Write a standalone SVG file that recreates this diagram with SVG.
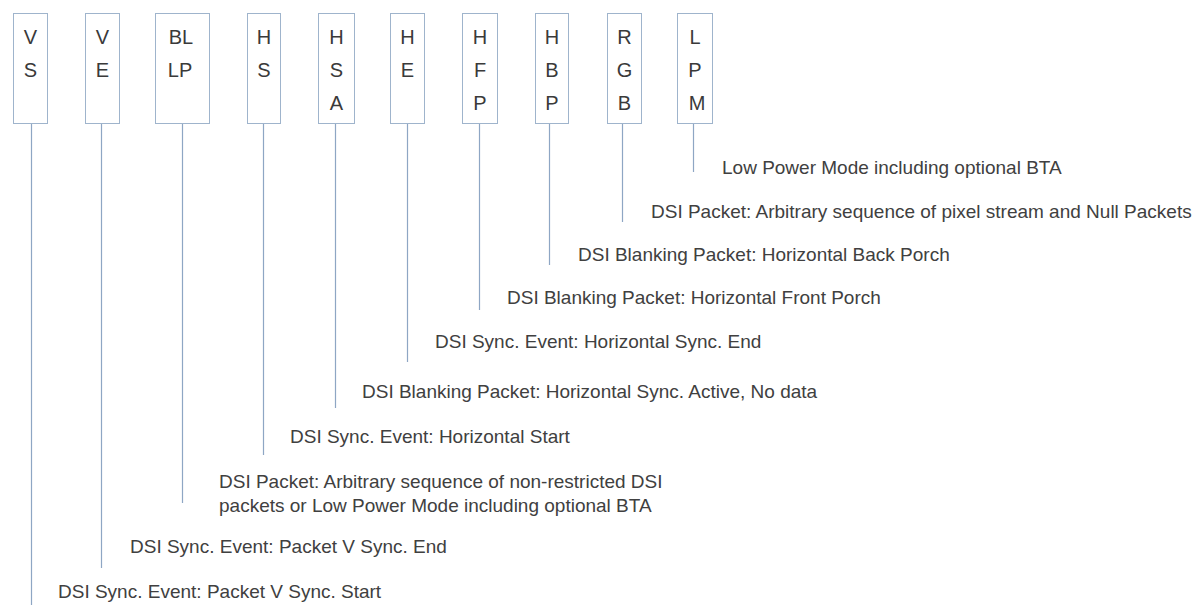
<svg xmlns="http://www.w3.org/2000/svg" width="1195" height="605" viewBox="0 0 1195 605">
<style>
.box{fill:#ffffff;stroke:#9fb4cc;stroke-width:1}
.lbl{font-family:"Liberation Sans",Arial,sans-serif;font-size:20px;fill:#3a3a3a;text-anchor:middle}
.txt{font-family:"Liberation Sans",Arial,sans-serif;font-size:19px;fill:#404040}
.ln{stroke:#8ea6c4;stroke-width:1.2;fill:none}
</style>
<rect width="1195" height="605" fill="#ffffff"/>
<g id="connectors">
<line class="ln" x1="31.5" y1="123" x2="31.5" y2="605"/>
<line class="ln" x1="101.5" y1="123" x2="101.5" y2="568"/>
<line class="ln" x1="182.5" y1="123" x2="182.5" y2="503"/>
<line class="ln" x1="263.5" y1="123" x2="263.5" y2="455"/>
<line class="ln" x1="335.5" y1="123" x2="335.5" y2="408"/>
<line class="ln" x1="407.5" y1="123" x2="407.5" y2="362"/>
<line class="ln" x1="479.5" y1="123" x2="479.5" y2="310"/>
<line class="ln" x1="549.5" y1="123" x2="549.5" y2="265"/>
<line class="ln" x1="622.5" y1="123" x2="622.5" y2="222"/>
<line class="ln" x1="693.5" y1="123" x2="693.5" y2="172"/>
</g>
<g id="VS"><rect class="box" x="13.5" y="13.5" width="34" height="110"/><text class="lbl" x="30.5" y="44">V</text><text class="lbl" x="30.5" y="77">S</text></g>
<g id="VE"><rect class="box" x="85.5" y="13.5" width="34" height="110"/><text class="lbl" x="102.5" y="44">V</text><text class="lbl" x="102.5" y="77">E</text></g>
<g id="BLLP"><rect class="box" x="155.5" y="13.5" width="54" height="110"/><text class="lbl" x="181" y="44">BL</text><text class="lbl" x="180" y="77">LP</text></g>
<g id="HS"><rect class="box" x="247.5" y="13.5" width="33" height="110"/><text class="lbl" x="264" y="44">H</text><text class="lbl" x="264" y="77">S</text></g>
<g id="HSA"><rect class="box" x="318.5" y="13.5" width="36" height="110"/><text class="lbl" x="336.5" y="44">H</text><text class="lbl" x="336.5" y="77">S</text><text class="lbl" x="336.5" y="110">A</text></g>
<g id="HE"><rect class="box" x="390.5" y="13.5" width="34" height="110"/><text class="lbl" x="407.5" y="44">H</text><text class="lbl" x="407.5" y="77">E</text></g>
<g id="HFP"><rect class="box" x="462.5" y="13.5" width="35" height="110"/><text class="lbl" x="480" y="44">H</text><text class="lbl" x="480" y="77">F</text><text class="lbl" x="480" y="110">P</text></g>
<g id="HBP"><rect class="box" x="535.5" y="13.5" width="33" height="110"/><text class="lbl" x="552" y="44">H</text><text class="lbl" x="552" y="77">B</text><text class="lbl" x="552" y="110">P</text></g>
<g id="RGB"><rect class="box" x="607.5" y="13.5" width="34" height="110"/><text class="lbl" x="624.5" y="44">R</text><text class="lbl" x="624.5" y="77">G</text><text class="lbl" x="624.5" y="110">B</text></g>
<g id="LPM"><rect class="box" x="677.5" y="13.5" width="35" height="110"/><text class="lbl" x="695" y="44">L</text><text class="lbl" x="695" y="77">P</text><text class="lbl" x="697" y="110">M</text></g>
<g id="descriptions">
<text class="txt" x="722" y="174">Low Power Mode including optional BTA</text>
<text class="txt" x="651" y="218">DSI Packet: Arbitrary sequence of pixel stream and Null Packets</text>
<text class="txt" x="578" y="261">DSI Blanking Packet: Horizontal Back Porch</text>
<text class="txt" x="507" y="304">DSI Blanking Packet: Horizontal Front Porch</text>
<text class="txt" x="435" y="348">DSI Sync. Event: Horizontal Sync. End</text>
<text class="txt" x="362" y="398">DSI Blanking Packet: Horizontal Sync. Active, No data</text>
<text class="txt" x="290" y="443">DSI Sync. Event: Horizontal Start</text>
<text class="txt" x="219" y="488">DSI Packet: Arbitrary sequence of non-restricted DSI</text>
<text class="txt" x="219" y="512">packets or Low Power Mode including optional BTA</text>
<text class="txt" x="130" y="553">DSI Sync. Event: Packet V Sync. End</text>
<text class="txt" x="58" y="598">DSI Sync. Event: Packet V Sync. Start</text>
</g>
</svg>
